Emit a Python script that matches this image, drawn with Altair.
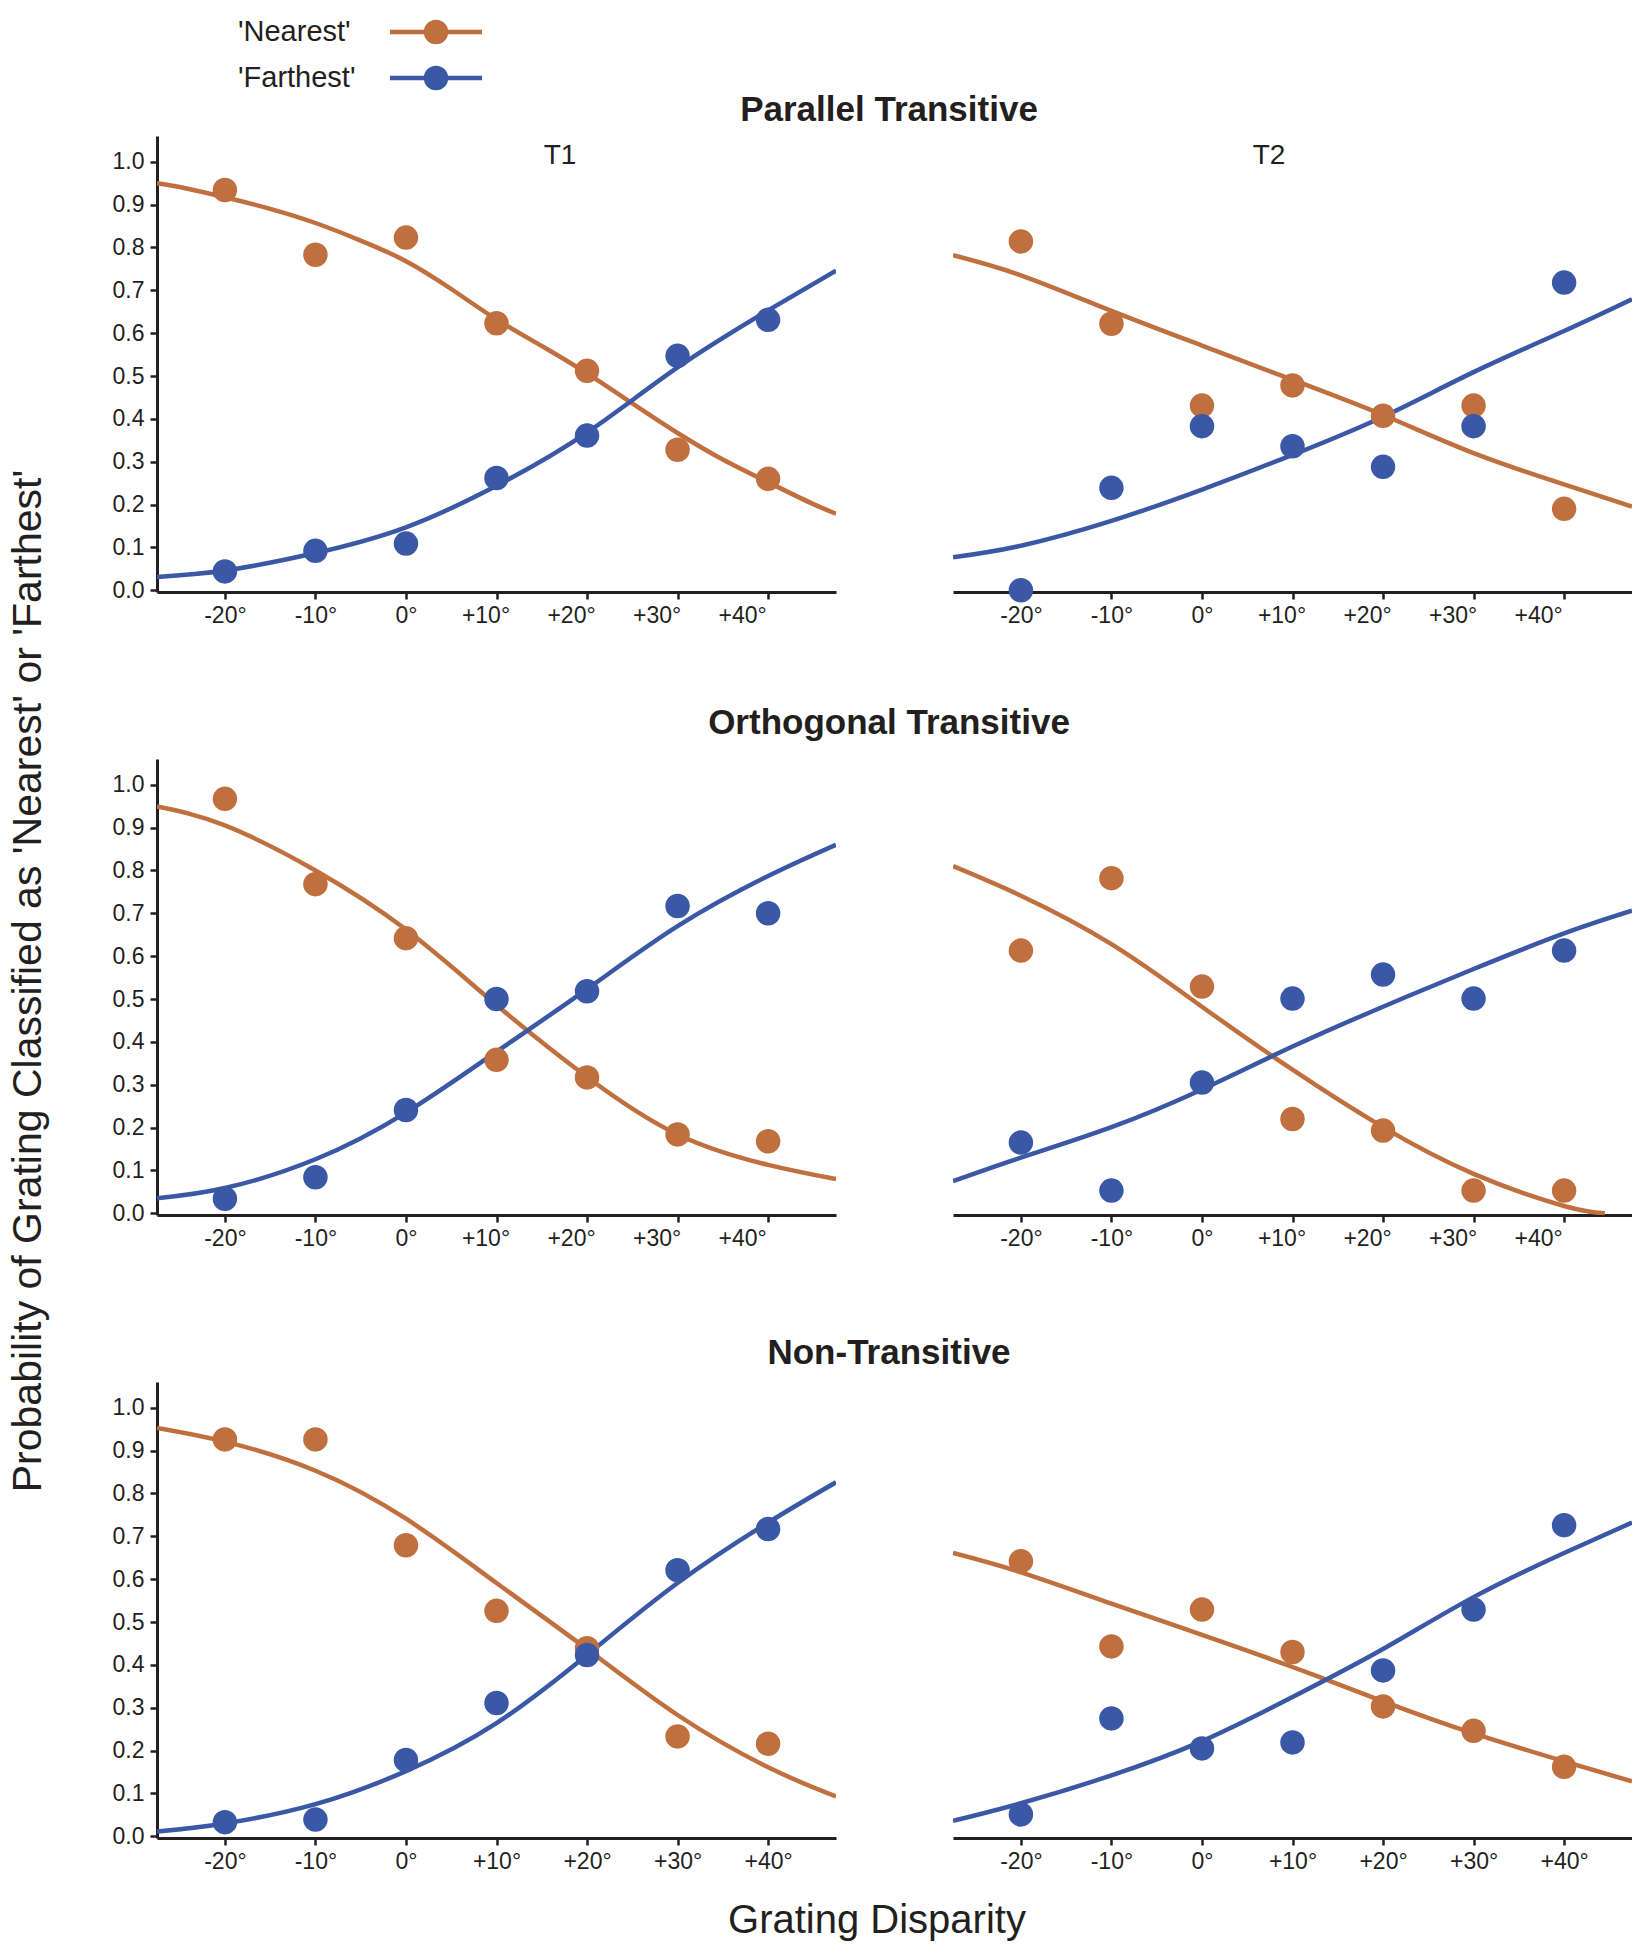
import altair as alt
import pandas as pd

# ---------------- data ----------------
SERIES = ["'Nearest'", "'Farthest'"]
COLORS = ["#C0703E", "#3A58A5"]
ROW_TITLES = ["Parallel Transitive", "Orthogonal Transitive", "Non-Transitive"]
COL_LABELS = ["T1", "T2"]
X_TITLE = "Grating Disparity"
Y_TITLE = "Probability of Grating Classified as 'Nearest' or 'Farthest'"

DISPARITY = [-20, -10, 0, 10, 20, 30, 40]
Y_TICKS = [0.0, 0.1, 0.2, 0.3, 0.4, 0.5, 0.6, 0.7, 0.8, 0.9, 1.0]
CURVE_X = [-27.5, -20, -10, 0, 10, 20, 30, 40, 47.5]
CURVE_X_SHORT = [-27.5, -20, -10, 0, 10, 20, 30, 40, 44.5]
CURVE_X_FINE = [-27.5, -25, -20, -15, -10, -5, 0, 5, 10, 15, 20, 25, 30, 35, 40, 45, 47.5]

# observed proportions (points)
par_t1_near = [0.934, 0.783, 0.823, 0.623, 0.512, 0.328, 0.260]
par_t1_far = [0.044, 0.092, 0.109, 0.262, 0.361, 0.547, 0.631]
par_t2_near = [0.814, 0.622, 0.431, 0.478, 0.407, 0.431, 0.190]
par_t2_far = [0.000, 0.239, 0.383, 0.336, 0.288, 0.383, 0.718]
ort_t1_near = [0.967, 0.768, 0.642, 0.358, 0.317, 0.184, 0.168]
ort_t1_far = [0.034, 0.084, 0.241, 0.500, 0.518, 0.717, 0.700]
ort_t2_near = [0.613, 0.782, 0.529, 0.220, 0.193, 0.053, 0.053]
ort_t2_far = [0.165, 0.053, 0.305, 0.501, 0.557, 0.501, 0.613]
non_t1_near = [0.926, 0.926, 0.679, 0.526, 0.439, 0.233, 0.216]
non_t1_far = [0.033, 0.039, 0.178, 0.311, 0.423, 0.621, 0.717]
non_t2_near = [0.642, 0.443, 0.529, 0.430, 0.303, 0.246, 0.162]
non_t2_far = [0.051, 0.275, 0.205, 0.219, 0.387, 0.529, 0.726]

# fitted curves
par_t1_near_fit = [0.950, 0.941, 0.917, 0.890, 0.857, 0.816, 0.768, 0.703, 0.632,
                   0.570, 0.506, 0.436, 0.367, 0.305, 0.252, 0.201, 0.179]
par_t1_far_fit = [0.031, 0.046, 0.087, 0.147, 0.244, 0.368, 0.520, 0.653, 0.746]
par_t2_near_fit = [0.782, 0.735, 0.652, 0.571, 0.491, 0.409, 0.320, 0.247, 0.195]
par_t2_far_fit = [0.077, 0.104, 0.162, 0.235, 0.316, 0.405, 0.509, 0.605, 0.679]
ort_t1_near_fit = [0.949, 0.905, 0.800, 0.662, 0.486, 0.318, 0.184, 0.113, 0.080]
ort_t1_far_fit = [0.035, 0.059, 0.126, 0.235, 0.377, 0.523, 0.670, 0.787, 0.860]
ort_t2_near_fit = [0.810, 0.741, 0.628, 0.482, 0.335, 0.201, 0.092, 0.017, 0.000]
ort_t2_far_fit = [0.075, 0.130, 0.201, 0.289, 0.389, 0.482, 0.570, 0.653, 0.706]
non_t1_near_fit = [0.953, 0.921, 0.853, 0.741, 0.591, 0.437, 0.283, 0.161, 0.093]
non_t1_far_fit = [0.011, 0.030, 0.075, 0.152, 0.264, 0.423, 0.591, 0.732, 0.826]
non_t2_near_fit = [0.661, 0.616, 0.543, 0.470, 0.395, 0.315, 0.240, 0.175, 0.128]
non_t2_far_fit = [0.036, 0.077, 0.142, 0.222, 0.325, 0.437, 0.558, 0.661, 0.732]

PANELS = [
    [(par_t1_near, par_t1_far, par_t1_near_fit, par_t1_far_fit, CURVE_X_FINE, CURVE_X),
     (par_t2_near, par_t2_far, par_t2_near_fit, par_t2_far_fit, CURVE_X, CURVE_X)],
    [(ort_t1_near, ort_t1_far, ort_t1_near_fit, ort_t1_far_fit, CURVE_X, CURVE_X),
     (ort_t2_near, ort_t2_far, ort_t2_near_fit, ort_t2_far_fit, CURVE_X_SHORT, CURVE_X)],
    [(non_t1_near, non_t1_far, non_t1_near_fit, non_t1_far_fit, CURVE_X, CURVE_X),
     (non_t2_near, non_t2_far, non_t2_near_fit, non_t2_far_fit, CURVE_X, CURVE_X)],
]

# ---------------- layout / style ----------------
W, H = 679, 456
FONT = "Liberation Sans"
INK = "#231F20"
ROW_TITLE_Y = [-26, -36, -29]
# in the first two rows the positive tick labels sit a little left of their ticks
LABEL_SHIFT = {10: -11, 20: -16, 30: -21, 40: -26}

x_scale = alt.Scale(domain=[-27.5, 47.5], nice=False, zero=False)
y_scale = alt.Scale(domain=[-0.004, 1.06], nice=False, zero=False)
color = alt.Color("series:N", scale=alt.Scale(domain=SERIES, range=COLORS), legend=None)

LABEL_EXPR = "datum.value > 0 ? '+' + datum.value + '°' : datum.value + '°'"


def x_axis_for(r):
    if r < 2:
        cond = [{"test": f"datum.value == {k}", "value": v} for k, v in LABEL_SHIFT.items()]
        return alt.Axis(values=DISPARITY, title=None, grid=False, labelExpr=LABEL_EXPR,
                        labelOffset={"condition": cond, "value": 0})
    return alt.Axis(values=DISPARITY, title=None, grid=False, labelExpr=LABEL_EXPR)


def panel(r, c):
    near, far, near_fit, far_fit, cx_near, cx_far = PANELS[r][c]
    pts = pd.DataFrame({
        "x": DISPARITY + DISPARITY,
        "value": near + far,
        "series": [SERIES[0]] * len(near) + [SERIES[1]] * len(far),
    })
    crv = pd.DataFrame({
        "x": cx_near + cx_far,
        "value": near_fit + far_fit,
        "series": [SERIES[0]] * len(near_fit) + [SERIES[1]] * len(far_fit),
    })
    if c == 0:
        yenc = alt.Y("value:Q", scale=y_scale,
                     axis=alt.Axis(values=Y_TICKS, format=".1f", title=None, grid=False, labelPadding=6))
    else:
        yenc = alt.Y("value:Q", scale=y_scale, axis=None)
    xenc = alt.X("x:Q", scale=x_scale, axis=x_axis_for(r))
    lines = alt.Chart(crv).mark_line(strokeWidth=4.5, interpolate="natural", clip=True).encode(
        x=xenc, y=yenc, color=color)
    points = alt.Chart(pts).mark_circle(size=600, opacity=1).encode(x=xenc, y=yenc, color=color)
    layers = [lines, points]

    if r == 0:
        lab = pd.DataFrame({"label": [COL_LABELS[c]]})
        layers.append(alt.Chart(lab).mark_text(fontSize=28, font=FONT, color=INK, align="center",
                                                baseline="middle").encode(
            text="label:N", x=alt.value(403 if c == 0 else 316), y=alt.value(20)))
    if c == 0:
        tdf = pd.DataFrame({"t": [ROW_TITLES[r]]})
        layers.append(alt.Chart(tdf).mark_text(fontSize=35, font=FONT, fontWeight="bold", color=INK,
                                                align="center", baseline="middle").encode(
            text="t:N", x=alt.value(732), y=alt.value(ROW_TITLE_Y[r])))
    if r == 0 and c == 0:
        leg_y = [-104, -58]
        for i, s in enumerate(SERIES):
            ldf = pd.DataFrame({"series": [s]})
            base = alt.Chart(ldf)
            layers.append(base.mark_rule(strokeWidth=4.5, color=COLORS[i]).encode(
                x=alt.value(233), x2=alt.value(325), y=alt.value(leg_y[i])))
            layers.append(base.mark_point(filled=True, size=600, opacity=1, shape="circle",
                                          color=COLORS[i]).encode(
                x=alt.value(279), y=alt.value(leg_y[i])))
            layers.append(base.mark_text(fontSize=29, font=FONT, color=INK, align="left",
                                         baseline="middle").encode(
                text="series:N", x=alt.value(81), y=alt.value(leg_y[i])))
    if r == 1 and c == 0:
        ydf = pd.DataFrame({"t": [Y_TITLE]})
        layers.append(alt.Chart(ydf).mark_text(fontSize=41, font=FONT, color=INK, angle=270,
                                                align="center", baseline="middle").encode(
            text="t:N", x=alt.value(-128), y=alt.value(222)))
    if r == 2 and c == 0:
        xdf = pd.DataFrame({"t": [X_TITLE]})
        layers.append(alt.Chart(xdf).mark_text(fontSize=40, font=FONT, color=INK,
                                                align="center", baseline="middle").encode(
            text="t:N", x=alt.value(720), y=alt.value(539)))
    return alt.layer(*layers).properties(width=W, height=H)


charts = [panel(r, c) for r in range(3) for c in range(2)]

chart = alt.concat(*charts, columns=2, bounds="flush",
                   spacing={"row": 167, "column": 117}).properties(
    padding={"left": 7, "top": 18, "right": 0, "bottom": 0},
    background="white",
).configure(font=FONT).configure_view(stroke=None).configure_axis(
    domainColor=INK, domainWidth=3, tickColor=INK, tickWidth=2.5, tickSize=7,
    labelFontSize=23, labelColor=INK, labelFont=FONT, labelPadding=5,
)

chart.save("out.html", embed_options={"renderer": "svg", "actions": False})
